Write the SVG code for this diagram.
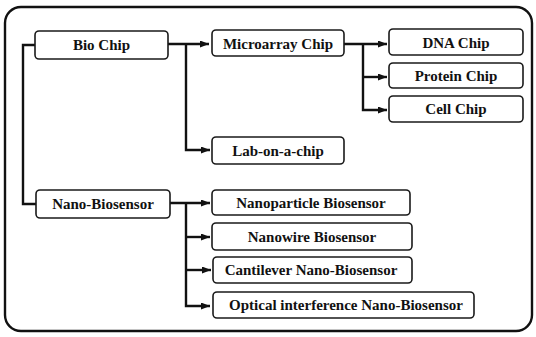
<svg xmlns="http://www.w3.org/2000/svg" width="536" height="337" viewBox="0 0 536 337">
<style>
.box{fill:#fff;stroke:#1a1a1a;stroke-width:1.6}
.t{font-family:"Liberation Serif","Times New Roman",serif;font-weight:bold;font-size:15px;fill:#111;text-anchor:middle}
.c{fill:none;stroke:#111;stroke-width:2.4}
</style>
<defs>
<marker id="ah" markerUnits="userSpaceOnUse" markerWidth="10" markerHeight="8" refX="9" refY="3.5" orient="auto">
<path d="M0,0 L9,3.5 L0,7 z" fill="#111"/>
</marker>
</defs>
<rect x="5" y="7" width="527" height="324" rx="16" fill="#fff" stroke="#111" stroke-width="2.4"/>
<g id="connectors">
<path class="c" d="M35,45 H23 V204 H36"/>
<path class="c" d="M168,44 H209" marker-end="url(#ah)"/>
<path class="c" d="M186,44 V150 H210" marker-end="url(#ah)"/>
<path class="c" d="M344,44 H387" marker-end="url(#ah)"/>
<path class="c" d="M363,44 V110 H387" marker-end="url(#ah)"/>
<path class="c" d="M363,77 H387" marker-end="url(#ah)"/>
<path class="c" d="M170,203 H210" marker-end="url(#ah)"/>
<path class="c" d="M186,203 V306 H210" marker-end="url(#ah)"/>
<path class="c" d="M186,237 H210" marker-end="url(#ah)"/>
<path class="c" d="M186,270 H211" marker-end="url(#ah)"/>
</g>
<g id="bio-chip"><rect class="box" x="35" y="31" width="133" height="28" rx="4"/><text class="t" x="101.5" y="50">Bio Chip</text></g>
<g id="nano-biosensor"><rect class="box" x="36" y="190" width="134" height="28" rx="4"/><text class="t" x="103" y="209">Nano-Biosensor</text></g>
<g id="microarray-chip"><rect class="box" x="212" y="30" width="132" height="26" rx="4"/><text class="t" x="278" y="48.5">Microarray Chip</text></g>
<g id="lab-on-a-chip"><rect class="box" x="212" y="137" width="132" height="27" rx="4"/><text class="t" x="278" y="155.5">Lab-on-a-chip</text></g>
<g id="dna-chip"><rect class="box" x="389" y="29" width="134" height="26" rx="4"/><text class="t" x="456" y="47.5">DNA Chip</text></g>
<g id="protein-chip"><rect class="box" x="389" y="63" width="134" height="25" rx="4"/><text class="t" x="456" y="80.5">Protein Chip</text></g>
<g id="cell-chip"><rect class="box" x="389" y="96" width="134" height="26" rx="4"/><text class="t" x="456" y="114">Cell Chip</text></g>
<g id="nanoparticle-biosensor"><rect class="box" x="212" y="190" width="198" height="25" rx="4"/><text class="t" x="311" y="207.5">Nanoparticle Biosensor</text></g>
<g id="nanowire-biosensor"><rect class="box" x="212" y="223" width="200" height="27" rx="4"/><text class="t" x="312" y="241.5">Nanowire Biosensor</text></g>
<g id="cantilever-nano-biosensor"><rect class="box" x="213" y="257" width="199" height="26" rx="4"/><text class="t" x="311" y="275">Cantilever Nano-Biosensor</text></g>
<g id="optical-interference-nano-biosensor"><rect class="box" x="213" y="292" width="261" height="26" rx="4"/><text class="t" x="346" y="310">Optical interference Nano-Biosensor</text></g>
</svg>
